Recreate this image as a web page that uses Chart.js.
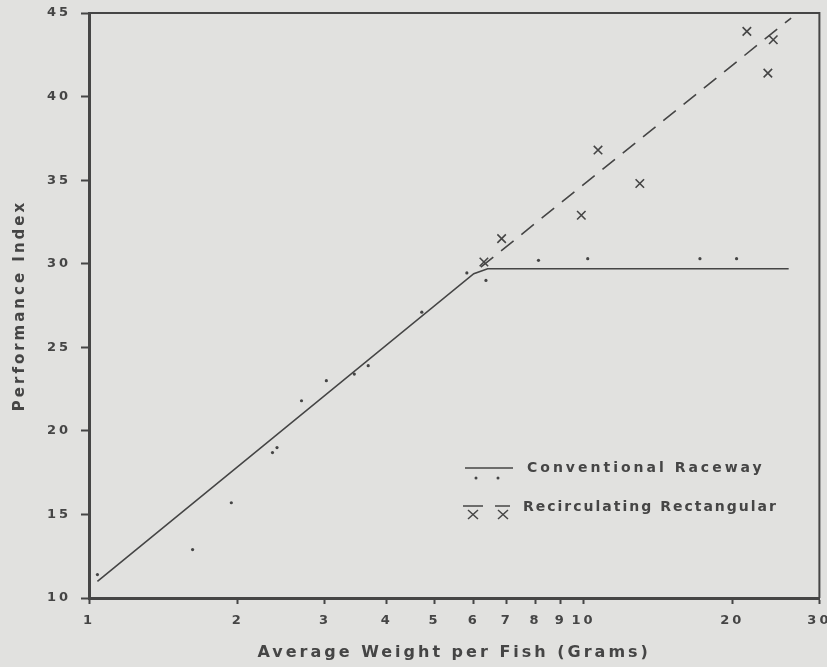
<!DOCTYPE html>
<html>
<head>
<meta charset="utf-8">
<script src="https://cdn.jsdelivr.net/npm/chart.js@4"></script>
<style>
  html, body { margin: 0; padding: 0; background: #e1e1df; }
  #wrap { width: 827px; height: 667px; }
</style>
</head>
<body>
<div id="wrap"><canvas id="chart" width="827" height="667"></canvas></div>
<script>
// values
const raceDotX = [1.04, 1.62, 1.94, 2.35, 2.40, 2.69, 3.02, 3.44, 3.67, 4.71, 5.81, 6.35, 8.11, 10.2, 17.2, 20.4];
const raceDotY = [11.4, 12.9, 15.7, 18.7, 19.0, 21.8, 23.0, 23.4, 23.9, 27.1, 29.45, 29.0, 30.2, 30.3, 30.3, 30.3];
const recircX = [6.29, 6.83, 9.9, 10.7, 13.0, 21.4, 24.2, 23.6];
const recircY = [30.1, 31.5, 32.9, 36.8, 34.8, 43.9, 43.4, 41.4];

// fitted lines
const raceLineX = [1.04, 6.0, 6.4, 26];
const raceLineY = [11.0, 29.4, 29.7, 29.7];
const recircLineX = [6.2, 26.3];
const recircLineY = [29.8, 44.7];

const xTickValues = [1, 2, 3, 4, 5, 6, 7, 8, 9, 10, 20, 30];

const INK = '#454545';
const pts = (xs, ys) => xs.map((x, i) => ({ x, y: ys[i] }));

// canvas letter spacing to mimic the spaced-out lettering
const spacing = {
  id: 'spacing',
  beforeLayout(chart) { chart.ctx.letterSpacing = '3px'; },
  beforeDraw(chart) { chart.ctx.letterSpacing = '3px'; },
};

// thin top/right frame + hand-made legend
const frameAndLegend = {
  id: 'frameAndLegend',
  afterDraw(chart) {
    const { ctx, chartArea: a } = chart;
    ctx.save();
    ctx.strokeStyle = INK;
    ctx.lineWidth = 2;
    ctx.beginPath();
    ctx.moveTo(a.left, a.top);
    ctx.lineTo(a.right, a.top);
    ctx.lineTo(a.right, a.bottom);
    ctx.stroke();

    // legend
    ctx.lineWidth = 1.5;
    ctx.beginPath();
    ctx.moveTo(465, 468);
    ctx.lineTo(513, 468);
    ctx.stroke();
    ctx.fillStyle = INK;
    [476, 498].forEach(x => {
      ctx.beginPath();
      ctx.arc(x, 478, 1.5, 0, Math.PI * 2);
      ctx.fill();
    });
    ctx.beginPath();
    ctx.moveTo(463, 506); ctx.lineTo(483, 506);
    ctx.moveTo(495, 506); ctx.lineTo(510, 506);
    [473, 503].forEach(x => {
      ctx.moveTo(x - 5, 510); ctx.lineTo(x + 5, 519);
      ctx.moveTo(x + 5, 510); ctx.lineTo(x - 5, 519);
    });
    ctx.stroke();

    ctx.font = 'bold 14px "DejaVu Sans"';
    ctx.letterSpacing = '3px';
    ctx.textBaseline = 'middle';
    ctx.textAlign = 'left';
    ctx.fillText('Conventional Raceway', 527, 468);
    ctx.letterSpacing = '2px';
    ctx.fillText('Recirculating Rectangular', 523, 507);
    ctx.restore();
  }
};

new Chart(document.getElementById('chart'), {
  type: 'scatter',
  data: {
    datasets: [
      {
        label: 'Conventional Raceway',
        type: 'line',
        data: pts(raceLineX, raceLineY),
        borderColor: INK,
        borderWidth: 1.6,
        pointRadius: 0,
        tension: 0,
      },
      {
        label: 'Recirculating Rectangular',
        type: 'line',
        data: pts(recircLineX, recircLineY),
        borderColor: INK,
        borderWidth: 1.6,
        borderDash: [16, 10],
        pointRadius: 0,
      },
      {
        label: 'Conventional Raceway (obs)',
        data: pts(raceDotX, raceDotY),
        pointStyle: 'circle',
        pointRadius: 1.6,
        backgroundColor: INK,
        borderColor: INK,
        borderWidth: 0,
      },
      {
        label: 'Recirculating Rectangular (obs)',
        data: pts(recircX, recircY),
        pointStyle: 'crossRot',
        pointRadius: 6,
        borderColor: INK,
        borderWidth: 1.6,
      },
    ],
  },
  options: {
    responsive: false,
    animation: false,
    layout: { padding: { left: 0, top: 13, right: 5, bottom: 0 } },
    plugins: {
      legend: { display: false },
      tooltip: { enabled: false },
    },
    scales: {
      x: {
        type: 'logarithmic',
        min: 1,
        max: 30,
        afterFit(scale) {
          scale.height = 69;
          scale.paddingLeft = 0;
          scale.paddingRight = 0;
        },
        afterBuildTicks(scale) {
          scale.ticks = xTickValues.map(v => ({ value: v }));
        },
        grid: { drawOnChartArea: false, drawTicks: true, tickLength: 6, tickWidth: 2, tickColor: INK },
        border: { display: true, width: 3, color: INK },
        ticks: {
          autoSkip: false,
          maxRotation: 0,
          padding: 9,
          color: INK,
          font: { family: 'DejaVu Sans', weight: 'bold', size: 13 },
          callback: (v) => String(v),
        },
        title: {
          display: true,
          text: 'Average Weight per Fish (Grams)',
          color: INK,
          font: { family: 'DejaVu Sans', weight: 'bold', size: 16 },
          padding: { top: 0, bottom: 5 },
        },
      },
      y: {
        min: 10,
        max: 45,
        afterFit(scale) {
          scale.width = 89;
          scale.paddingTop = 0;
          scale.paddingBottom = 0;
        },
        grid: { drawOnChartArea: false, drawTicks: true, tickLength: 8, tickWidth: 2, tickColor: INK },
        border: { display: true, width: 3, color: INK },
        ticks: {
          stepSize: 5,
          padding: 10,
          color: INK,
          font: { family: 'DejaVu Sans', weight: 'bold', size: 13 },
        },
        title: {
          display: true,
          text: 'Performance Index',
          color: INK,
          font: { family: 'DejaVu Sans', weight: 'bold', size: 15 },
          padding: { top: 11, bottom: 0 },
        },
      },
    },
  },
  plugins: [spacing, frameAndLegend],
});
</script>
</body>
</html>
